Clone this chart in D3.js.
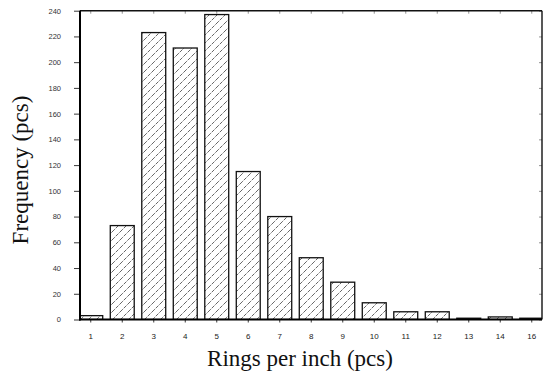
<!DOCTYPE html>
<html>
<head>
<meta charset="utf-8">
<script src="https://cdn.jsdelivr.net/npm/d3@7"></script>
<style>
  html, body { margin: 0; padding: 0; background: #fff; }
  svg { display: block; }
</style>
</head>
<body>
<svg id="chart" width="549" height="372"></svg>
<script>
// ---- data ----
const categories = ["1","2","3","4","5","6","7","8","9","10","11","12","13","14","16"];
const frequency  = [3, 73, 223, 211, 237, 115, 80, 48, 29, 13, 6, 6, 1, 2, 1];
const yTicks     = [0, 20, 40, 60, 80, 100, 120, 140, 160, 180, 200, 220, 240];
const xTitle = "Rings per inch (pcs)";
const yTitle = "Frequency (pcs)";

// ---- layout ----
const W = 549, H = 372;
const plot = { left: 80, right: 542, top: 10.7, bottom: 319.5 };

const svg = d3.select("#chart");
svg.append("rect").attr("width", W).attr("height", H).attr("fill", "#fff");

const x = d3.scaleBand()
  .domain(categories)
  .range([75, 547.5])
  .paddingInner(0.24)
  .paddingOuter(0.12);

const y = d3.scaleLinear()
  .domain([0, 240])
  .range([plot.bottom, plot.top]);

// hatch pattern
const defs = svg.append("defs");
const pat = defs.append("pattern")
  .attr("id", "hatch")
  .attr("patternUnits", "userSpaceOnUse")
  .attr("width", 8).attr("height", 8);
pat.append("path")
  .attr("d", "M-1,1 l2,-2 M0,8 l8,-8 M7,9 l2,-2")
  .attr("stroke", "#333")
  .attr("stroke-width", 0.75)
  .attr("stroke-dasharray", "4,1.2")
  .attr("fill", "none");

// bars
const data = categories.map((c, i) => ({ c, v: frequency[i] }));
const clip = defs.append("clipPath").attr("id", "plotclip");
clip.append("rect")
  .attr("x", plot.left).attr("y", plot.top)
  .attr("width", plot.right - plot.left).attr("height", plot.bottom - plot.top);

const barsG = svg.append("g").attr("clip-path", "url(#plotclip)");
barsG.selectAll("rect.bar")
  .data(data)
  .join("rect")
  .attr("class", "bar")
  .attr("x", d => x(d.c))
  .attr("y", d => y(d.v))
  .attr("width", x.bandwidth())
  .attr("height", d => y(0) - y(d.v))
  .attr("fill", "url(#hatch)")
  .attr("stroke", "#111")
  .attr("stroke-width", 1.3);

// left axis
const yAxis = d3.axisLeft(y)
  .tickValues(yTicks)
  .tickSize(6)
  .tickPadding(13);
const gy = svg.append("g")
  .attr("transform", `translate(${plot.left},0)`)
  .call(yAxis);
gy.select(".domain").remove();
gy.selectAll("line").attr("stroke", "#222").attr("stroke-width", 0.9);
gy.selectAll("text")
  .attr("font-family", "Liberation Sans, Arial, sans-serif")
  .attr("font-size", 7.5)
  .attr("fill", "#333");

// bottom axis
const xAxis = d3.axisBottom(x)
  .tickSize(3)
  .tickPadding(11);
const gx = svg.append("g")
  .attr("transform", `translate(0,${plot.bottom})`)
  .call(xAxis);
gx.select(".domain").remove();
gx.selectAll("line").attr("stroke", "#222").attr("stroke-width", 0.9);
gx.selectAll("text")
  .attr("font-family", "Liberation Sans, Arial, sans-serif")
  .attr("font-size", 8)
  .attr("fill", "#222");

// right axis (inward minor ticks, no labels)
const gr = svg.append("g")
  .attr("transform", `translate(${plot.right},0)`)
  .call(d3.axisRight(y).tickValues(yTicks).tickSize(-3).tickFormat(""));
gr.select(".domain").remove();
gr.selectAll("line").attr("stroke", "#666").attr("stroke-width", 0.7);

// top axis (inward minor ticks, no labels)
const gt = svg.append("g")
  .attr("transform", `translate(0,${plot.top})`)
  .call(d3.axisTop(x).tickSize(-3).tickFormat(""));
gt.select(".domain").remove();
gt.selectAll("line").attr("stroke", "#666").attr("stroke-width", 0.7);

// frame
svg.append("line")
  .attr("x1", plot.left).attr("x2", plot.right)
  .attr("y1", plot.top).attr("y2", plot.top)
  .attr("stroke", "#111").attr("stroke-width", 1.4);
svg.append("line")
  .attr("x1", plot.right).attr("x2", plot.right)
  .attr("y1", plot.top).attr("y2", plot.bottom)
  .attr("stroke", "#111").attr("stroke-width", 1.4);
svg.append("line")
  .attr("x1", plot.left).attr("x2", plot.left)
  .attr("y1", plot.top).attr("y2", plot.bottom + 1)
  .attr("stroke", "#000").attr("stroke-width", 2);
svg.append("line")
  .attr("x1", plot.left - 1).attr("x2", plot.right)
  .attr("y1", plot.bottom).attr("y2", plot.bottom)
  .attr("stroke", "#000").attr("stroke-width", 2);

// titles
svg.append("text")
  .attr("x", 300).attr("y", 366)
  .attr("text-anchor", "middle")
  .attr("font-family", "Liberation Serif, Times New Roman, serif")
  .attr("font-size", 23)
  .attr("fill", "#111")
  .text(xTitle);

svg.append("text")
  .attr("transform", "translate(28,170) rotate(-90)")
  .attr("text-anchor", "middle")
  .attr("font-family", "Liberation Serif, Times New Roman, serif")
  .attr("font-size", 23)
  .attr("fill", "#111")
  .text(yTitle);
</script>
</body>
</html>
